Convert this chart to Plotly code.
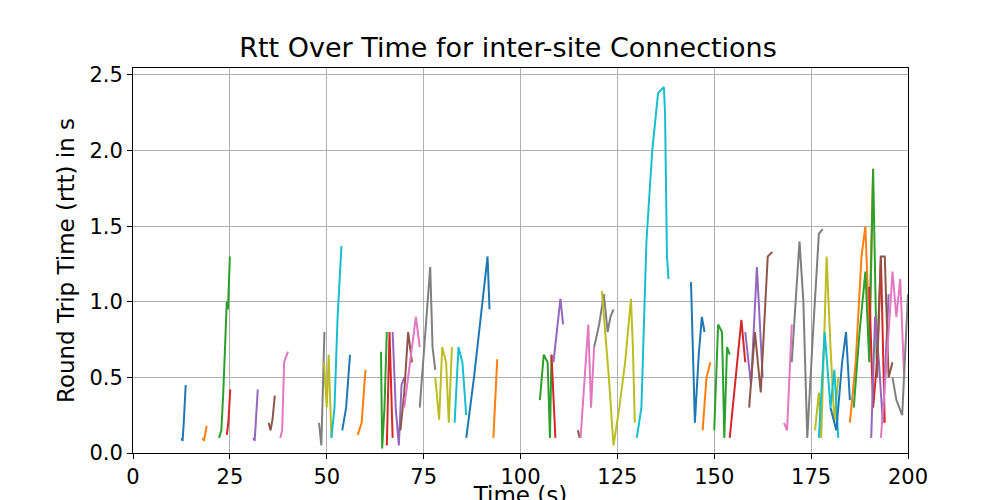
import plotly.graph_objects as go

colors = ["#1f77b4","#ff7f0e","#2ca02c","#d62728","#9467bd","#8c564b","#e377c2","#7f7f7f","#bcbd22","#17becf"]

seg_times = [
 [12.5,12.8,13.1,13.6],
 [18.0,18.3,18.6,19.0],
 [22.2,22.8,23.3,23.8,24.2,24.5,25.0],
 [24.2,24.6,25.1],
 [31.0,31.4,31.8,32.2],
 [35.0,35.5,36.0,36.6],
 [38.0,38.5,39.0,39.6,40.0],
 [48.0,48.6,49.4],
 [49.3,50.0,50.5,51.2],
 [51.2,52.0,52.8,53.8],
 [54.0,55.0,56.0],
 [58.0,59.0,60.0],
 [64.0,64.3,64.9,65.5],
 [65.5,66.2,67.0],
 [67.0,67.8,68.6,69.3,70.0],
 [69.0,70.0,71.0,72.0],
 [70.0,71.5,73.0,74.0],
 [74.0,75.5,76.7,77.3,78.0],
 [78.0,79.0,79.8,80.8,81.5,82.3],
 [83.0,84.0,85.0,86.0],
 [86.0,88.0,91.5,92.0],
 [93.0,94.0],
 [105.0,106.0,107.0,107.6,108.0],
 [108.0,109.0],
 [108.5,109.5,110.3,111.0],
 [114.8,115.3],
 [115.5,116.5,117.5,118.2,119.0],
 [119.0,120.3,121.5,122.5,123.2,124.0],
 [121.0,122.8,124.0,125.5,127.0,128.5,129.0,129.5],
 [130.0,131.2,132.5,134.0,135.5,137.0,137.3,137.8,138.2],
 [144.0,145.0,146.0,146.8,147.5],
 [147.0,148.0,149.0],
 [150.0,151.0,152.0,152.6,153.3,154.0],
 [154.0,155.5,157.0,158.0],
 [158.0,159.5,161.0,161.8,162.5],
 [159.0,160.5,162.0,163.8,165.0],
 [168.0,168.8,170.0],
 [170.0,172.0,173.0,174.0,175.5,177.0,178.0],
 [176.0,177.0,177.6,179.0,180.0,181.0,182.0],
 [177.0,178.5,180.0,181.0,182.0],
 [180.0,181.5,183.0,184.0,185.0],
 [185.0,186.5,188.0,189.0,190.0,191.0],
 [186.0,187.5,189.0,190.0,191.0,192.0],
 [190.0,191.0,192.0,193.0,194.0],
 [190.5,191.5,192.5,193.5,195.0],
 [192.0,193.0,194.0,195.0,196.0],
 [193.0,194.5,196.0,197.0,198.0,199.0],
 [196.0,197.0,198.5,200.0],
]
seg_rtts = [
 [0.10,0.08,0.20,0.45],
 [0.10,0.08,0.12,0.18],
 [0.10,0.15,0.40,0.70,1.00,0.95,1.30],
 [0.12,0.20,0.42],
 [0.10,0.08,0.25,0.42],
 [0.20,0.15,0.22,0.38],
 [0.10,0.15,0.60,0.65,0.67],
 [0.20,0.05,0.80],
 [0.60,0.30,0.65,0.10],
 [0.10,0.30,0.90,1.37],
 [0.15,0.30,0.65],
 [0.12,0.20,0.55],
 [0.67,0.03,0.30,0.80],
 [0.05,0.80,0.10],
 [0.80,0.30,0.05,0.45,0.50],
 [0.15,0.40,0.80,0.60],
 [0.30,0.60,0.90,0.70],
 [0.30,0.80,1.23,0.70,0.55],
 [0.50,0.22,0.70,0.60,0.20,0.70],
 [0.20,0.70,0.60,0.25],
 [0.10,0.50,1.30,0.95],
 [0.10,0.62],
 [0.35,0.65,0.60,0.10,0.65],
 [0.65,0.10],
 [0.60,0.85,1.02,0.85],
 [0.15,0.10],
 [0.10,0.50,0.85,0.30,0.70],
 [0.70,0.85,1.05,0.80,0.90,0.95],
 [1.07,0.50,0.05,0.30,0.60,1.02,0.70,0.20],
 [0.10,0.30,1.40,2.00,2.38,2.42,2.25,1.30,1.15],
 [1.13,0.20,0.65,0.90,0.80],
 [0.15,0.50,0.60],
 [0.15,0.85,0.80,0.10,0.70,0.65],
 [0.10,0.50,0.88,0.60],
 [0.80,0.45,1.23,0.80,0.50],
 [0.30,0.80,0.40,1.30,1.33],
 [0.20,0.15,0.85],
 [0.60,1.40,1.00,0.10,0.80,1.45,1.48],
 [0.15,0.40,0.10,1.30,0.70,0.20,0.50],
 [0.10,0.80,0.30,0.55,0.10],
 [0.30,0.15,0.60,0.80,0.35],
 [0.20,0.60,1.30,1.50,0.80,1.88],
 [0.30,0.80,1.20,0.60,1.88,0.50],
 [1.10,0.30,0.60,1.30,0.20],
 [0.10,0.90,0.60,0.20,1.05],
 [0.50,1.30,1.30,0.50,0.60],
 [0.10,0.60,1.20,0.90,1.15,0.50],
 [0.50,0.35,0.25,1.05],
]

fig = go.Figure()
for i, (t, r) in enumerate(zip(seg_times, seg_rtts)):
    fig.add_trace(go.Scatter(x=t, y=r, mode="lines", showlegend=False,
                             line=dict(color=colors[i % 10], width=2)))

axis_common = dict(showline=True, mirror=True, linecolor="black", linewidth=1,
                   ticks="outside", ticklen=5, tickcolor="black", automargin=False,
                   showgrid=True, gridcolor="#b0b0b0", gridwidth=1, zeroline=False,
                   tickfont=dict(size=21, color="black"))
fig.update_layout(
    width=1000, height=500, plot_bgcolor="white", paper_bgcolor="white",
    font=dict(family="DejaVu Sans", color="black"),
    margin=dict(l=125, r=100, t=60, b=55),
    title=dict(text="Rtt Over Time for inter-site Connections", x=0.5, xanchor="center",
               y=0.92, yanchor="middle", font=dict(size=27)),
    xaxis=dict(range=[0, 200], tickvals=[0,25,50,75,100,125,150,175,200],
               title=dict(text="Time (s)", font=dict(size=23), standoff=2), **axis_common),
    yaxis=dict(range=[0, 2.546], tickvals=[0,0.5,1,1.5,2,2.5],
               ticktext=["0.0","0.5","1.0","1.5","2.0","2.5"],
               title=dict(text="Round Trip Time (rtt) in s", font=dict(size=23), standoff=8), **axis_common),
)
fig.write_html("out.html")
